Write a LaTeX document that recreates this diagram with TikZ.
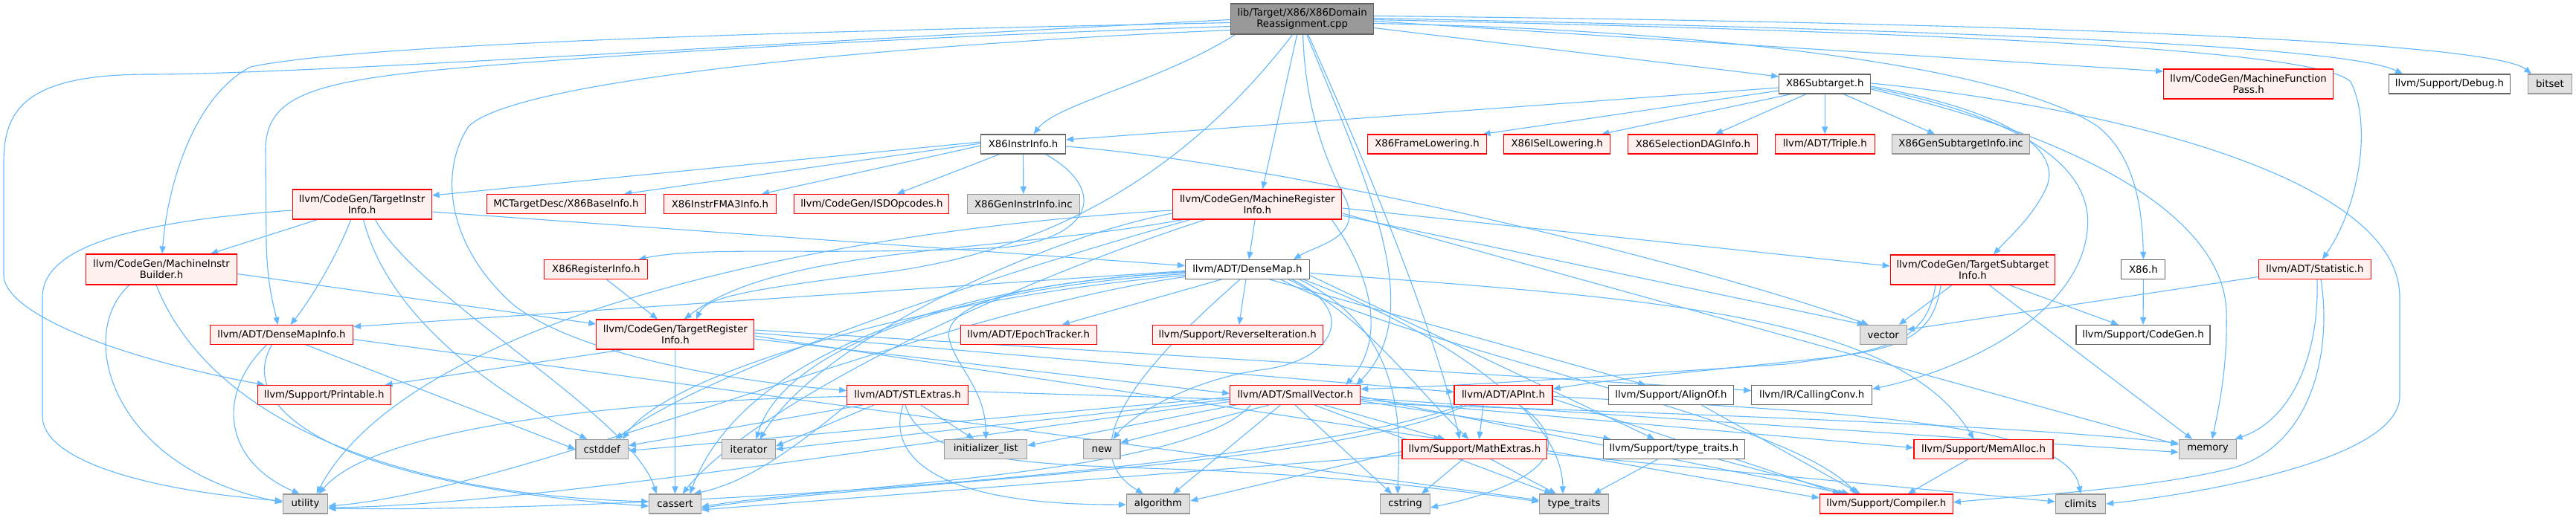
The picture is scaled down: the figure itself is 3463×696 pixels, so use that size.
\documentclass[tikz,border=0pt]{standalone}
\usepackage{fontspec}
\setmainfont{DejaVu Sans}
\usetikzlibrary{arrows.meta}
\newcommand{\ndfont}{\fontsize{13.3}{15}\selectfont}
\definecolor{ec}{HTML}{63B8FF}
\definecolor{nred}{HTML}{FF0000}
\definecolor{nredfill}{HTML}{FFF0F0}
\definecolor{ngray}{HTML}{999999}
\definecolor{ngrayfill}{HTML}{E0E0E0}
\definecolor{nwhite}{HTML}{666666}
\definecolor{mainfill}{HTML}{999999}
\pgfdeclarelayer{bg}
\pgfsetlayers{bg,main}
\tikzset{
 nb/.style={draw, line width=1.1pt, inner sep=0pt, align=center, font=\ndfont, minimum height=26pt},
 rn/.style={nb, draw=nred, fill=nredfill},
 gn/.style={nb, draw=ngray, fill=ngrayfill},
 wn/.style={nb, draw=nwhite, fill=white},
 ar/.style={draw=ec, line width=1.1pt, -{Triangle[length=10pt,width=8pt]}},
}
\begin{document}
\begin{tikzpicture}[x=1pt,y=-1pt]
\useasboundingbox (0,0) rectangle (3463,696);
% nodes
\node[nb, draw=nwhite, fill=mainfill, minimum width=191.6pt, minimum height=41pt] (main) at (1750.6,25.5) {lib/Target/X86/X86Domain\\Reassignment.cpp};
\node[wn, minimum width=123pt] (sub) at (2453.2,113) {X86Subtarget.h};
\node[rn, minimum width=228pt, minimum height=40pt] (mfp) at (3022.6,113) {llvm/CodeGen/MachineFunction\\Pass.h};
\node[wn, minimum width=163pt] (dbg) at (3293,113) {llvm/Support/Debug.h};
\node[gn, minimum width=58.7pt] (bitset) at (3428,113) {bitset};
\node[wn, minimum width=113.6pt] (x86ii) at (1375.6,194) {X86InstrInfo.h};
\node[rn, minimum width=159.6pt] (fl) at (1918.5,194) {X86FrameLowering.h};
\node[rn, minimum width=143pt] (isel) at (2093.2,194) {X86ISelLowering.h};
\node[rn, minimum width=174pt] (sdag) at (2275.9,194) {X86SelectionDAGInfo.h};
\node[rn, minimum width=134pt] (triple) at (2453.2,194) {llvm/ADT/Triple.h};
\node[gn, minimum width=184.4pt] (gensub) at (2636.1,194) {X86GenSubtargetInfo.inc};
\node[rn, minimum width=187pt, minimum height=40pt] (tii) at (486.6,275) {llvm/CodeGen/TargetInstr\\Info.h};
\node[rn, minimum width=213.6pt] (baseinfo) at (761,274.5) {MCTargetDesc/X86BaseInfo.h};
\node[rn, minimum width=150.8pt] (fma3) at (968,274.5) {X86InstrFMA3Info.h};
\node[rn, minimum width=208pt] (isd) at (1171.9,274.5) {llvm/CodeGen/ISDOpcodes.h};
\node[gn, minimum width=150.8pt] (genii) at (1375.8,274.5) {X86GenInstrInfo.inc};
\node[rn, minimum width=227.2pt, minimum height=40pt] (mri) at (1690.3,275) {llvm/CodeGen/MachineRegister\\Info.h};
\node[rn, minimum width=202.8pt, minimum height=41pt] (mib) at (217,362.5) {llvm/CodeGen/MachineInstr\\Builder.h};
\node[rn, minimum width=139pt] (x86ri) at (801.4,362.5) {X86RegisterInfo.h};
\node[wn, minimum width=166.8pt] (densemap) at (1676.9,362.5) {llvm/ADT/DenseMap.h};
\node[rn, minimum width=221.5pt, minimum height=40pt] (tsi) at (2652,363) {llvm/CodeGen/TargetSubtarget\\Info.h};
\node[wn, minimum width=59pt] (x86h) at (2881.4,362.5) {X86.h};
\node[rn, minimum width=151pt] (stat) at (3112,362.5) {llvm/ADT/Statistic.h};
\node[rn, minimum width=212pt, minimum height=40pt] (tri) at (907.9,450) {llvm/CodeGen/TargetRegister\\Info.h};
\node[rn, minimum width=192pt] (dmi) at (378.5,450.5) {llvm/ADT/DenseMapInfo.h};
\node[rn, minimum width=183pt] (epoch) at (1382.7,450.5) {llvm/ADT/EpochTracker.h};
\node[rn, minimum width=229pt] (reviter) at (1663.7,450.5) {llvm/Support/ReverseIteration.h};
\node[gn, minimum width=63pt] (vector) at (2531.8,450.5) {vector};
\node[wn, minimum width=180pt] (cgh) at (2881,450.5) {llvm/Support/CodeGen.h};
\node[rn, minimum width=178.7pt] (printable) at (435.7,531.5) {llvm/Support/Printable.h};
\node[rn, minimum width=162.5pt] (stl) at (1220,531.5) {llvm/ADT/STLExtras.h};
\node[rn, minimum width=175pt] (sv) at (1741.2,531.5) {llvm/ADT/SmallVector.h};
\node[rn, minimum width=132pt] (apint) at (2021,531.5) {llvm/ADT/APInt.h};
\node[wn, minimum width=168pt] (alignof) at (2246.4,531.5) {llvm/Support/AlignOf.h};
\node[wn, minimum width=161.5pt] (cc) at (2435.6,531.5) {llvm/IR/CallingConv.h};
\node[gn, minimum width=70.4pt] (cstddef) at (809.2,604.5) {cstddef};
\node[gn, minimum width=71.5pt] (iterator) at (1006.5,604.5) {iterator};
\node[gn, minimum width=111pt] (initl) at (1325.3,604.5) {initializer\_list};
\node[gn, minimum width=49.3pt] (new) at (1481.3,604.5) {new};
\node[rn, minimum width=194.8pt] (mathx) at (1982.4,604.5) {llvm/Support/MathExtras.h};
\node[wn, minimum width=190.4pt] (lltt) at (2250.4,604.5) {llvm/Support/type\_traits.h};
\node[rn, minimum width=187pt] (memalloc) at (2666.5,604.5) {llvm/Support/MemAlloc.h};
\node[gn, minimum width=77.7pt] (memory) at (2968,604.5) {memory};
\node[gn, minimum width=60.4pt] (utility) at (410.6,678) {utility};
\node[gn, minimum width=69.7pt] (cassert) at (907.5,678) {cassert};
\node[gn, minimum width=85.4pt] (algorithm) at (1557,678) {algorithm};
\node[gn, minimum width=67pt] (cstring) at (1889,678) {cstring};
\node[gn, minimum width=92.3pt] (tt) at (2116,678) {type\_traits};
\node[rn, minimum width=179pt] (compiler) at (2535.8,678) {llvm/Support/Compiler.h};
\node[gn, minimum width=67.3pt] (climits) at (2797,678) {climits};
\begin{pgfonlayer}{bg}
\fill[white] (0,0) rectangle (3463,696);
% main
\draw[ar] ([xshift=-90pt]main.south) .. controls (1560,110) and (1420,140) .. ([xshift=14pt]x86ii.north);
\draw[ar] ([yshift=-12pt]main.east) -- ([yshift=10pt]sub.west);
\draw[ar] ([yshift=-3pt]main.east) -- ([yshift=17pt]mfp.west);
\draw[ar] ([yshift=1pt]main.east) .. controls (2600,40) and (3150,60) .. ([xshift=-63pt]dbg.north);
\draw[ar] ([yshift=4pt]main.east) .. controls (2700,30) and (3350,55) .. ([xshift=-25pt]bitset.north);
\draw[ar] ([yshift=-1pt]main.east) .. controls (2700,45) and (3120,70) .. (3160,110) .. controls (3190,170) and (3170,280) .. ([xshift=10pt]stat.north);
\draw[ar] ([yshift=-6pt]main.east) .. controls (2300,40) and (2700,90) .. (2820,170) .. controls (2870,210) and (2880,280) .. (x86h.north);
\draw[ar] ([xshift=-7pt]main.south) -- ([xshift=7pt]mri.north);
\draw[ar] ([xshift=1pt]main.south) .. controls (1755,160) and (1790,230) .. (1810,270) .. controls (1830,320) and (1770,330) .. ([xshift=62pt]densemap.north);
\draw[ar] ([xshift=6pt]main.south) .. controls (1840,250) and (1920,420) .. ([xshift=82pt]sv.north);
\draw[ar] ([xshift=8pt]main.south) .. controls (1850,250) and (1930,450) .. ([xshift=-20pt]mathx.north);
\draw[ar] ([xshift=-13pt]main.south) .. controls (1620,200) and (1450,330) .. (1200,365) .. controls (1000,390) and (950,400) .. ([xshift=28pt]tri.north);
\draw[ar] ([yshift=-15pt]main.west) .. controls (1300,55) and (700,100) .. (630,170) .. controls (590,230) and (600,330) .. (690,410) .. controls (780,480) and (1000,515) .. ([yshift=6pt]stl.west);
\draw[ar] ([yshift=-10pt]main.west) .. controls (1200,50) and (800,75) .. (600,93) .. controls (420,110) and (358,130) .. (357,200) -- (358,330) .. controls (360,390) and (370,420) .. ([xshift=-5pt]dmi.north);
\draw[ar] ([yshift=-5pt]main.west) .. controls (1200,40) and (500,55) .. (337,90) .. controls (260,130) and (225,250) .. ([xshift=1pt]mib.north);
\draw[ar] ([yshift=-1pt]main.west) .. controls (1000,60) and (400,100) .. (200,100) .. controls (30,100) and (5,150) .. (5,220) -- (5,370) .. controls (5,420) and (150,480) .. ([xshift=-80pt]printable.north);
% sub
\draw[ar] ([yshift=-5pt]sub.west) -- ([yshift=6pt]x86ii.east);
\draw[ar] ([yshift=-9pt]sub.west) -- ([xshift=75pt]fl.north);
\draw[ar] ([xshift=-45pt]sub.south) -- ([xshift=60pt]isel.north);
\draw[ar] ([xshift=-25pt]sub.south) -- ([xshift=30pt]sdag.north);
\draw[ar] (sub) -- (triple);
\draw[ar] ([xshift=25pt]sub.south) -- ([xshift=-35pt]gensub.north);
\draw[ar] ([yshift=-3pt]sub.east) .. controls (2700,150) and (2770,200) .. (2752,250) .. controls (2735,290) and (2700,320) .. ([xshift=28pt]tsi.north);
\draw[ar] ([yshift=-5pt]sub.east) .. controls (2730,160) and (2815,230) .. (2806,310) .. controls (2795,420) and (2650,495) .. ([yshift=8pt]cc.east);
\draw[ar] ([yshift=1pt]sub.east) .. controls (2800,140) and (3226,230) .. (3226,400) -- (3226,533) .. controls (3226,620) and (2950,665) .. (climits.east);
\draw[ar] ([yshift=-7pt]sub.east) .. controls (2820,190) and (2990,300) .. (2993,420) .. controls (2995,500) and (2980,560) .. ([xshift=6pt]memory.north);
% x86ii
\draw[ar] ([yshift=3pt]x86ii.west) -- ([yshift=12pt]tii.east);
\draw[ar] ([yshift=1pt]x86ii.west) -- ([xshift=78pt]baseinfo.north);
\draw[ar] ([yshift=-2pt]x86ii.west) -- ([xshift=56pt]fma3.north);
\draw[ar] ([xshift=-32pt]x86ii.south) -- ([xshift=34pt]isd.north);
\draw[ar] (x86ii) -- (genii);
\draw[ar] ([xshift=30pt]x86ii.south) .. controls (1490,255) and (1470,320) .. (1350,333) .. controls (1100,345) and (950,330) .. ([xshift=57pt]x86ri.north);
\draw[ar] ([yshift=-3pt]x86ii.east) .. controls (1750,222) and (2300,360) .. ([xshift=-20pt]vector.north);
% tii
\draw[ar] ([xshift=-60pt]tii.south) -- ([xshift=66pt]mib.north);
\draw[ar] ([xshift=-15pt]tii.south) .. controls (455,340) and (420,400) .. ([xshift=12pt]dmi.north);
\draw[ar] ([yshift=-10pt]tii.east) -- ([yshift=5pt]densemap.west);
\draw[ar] ([yshift=-8pt]tii.west) .. controls (150,300) and (57,340) .. (57,400) -- (57,560) .. controls (57,620) and (200,660) .. ([yshift=4pt]utility.west);
\draw[ar] ([xshift=2pt]tii.south) .. controls (520,420) and (650,520) .. ([xshift=-20pt]cstddef.north);
\draw[ar] ([xshift=18pt]tii.south) .. controls (560,400) and (850,560) .. ([xshift=-25pt]cassert.north);
% mib
\draw[ar] ([yshift=-6pt]mib.east) -- ([yshift=14pt]tri.west);
\draw[ar] ([xshift=-43pt]mib.south) .. controls (100,450) and (150,630) .. ([yshift=2pt]utility.west);
\draw[ar] ([xshift=-7pt]mib.south) .. controls (280,560) and (520,665) .. ([yshift=3pt]cassert.west);
% mri
\draw[ar] (mri) -- (densemap);
\draw[ar] ([xshift=-100pt]mri.south) .. controls (1350,340) and (1050,330) .. ([xshift=12pt]tri.north);
\draw[ar] ([yshift=-5pt]mri.east) -- ([yshift=5pt]tsi.west);
\draw[ar] ([xshift=100pt]mri.south) .. controls (1850,380) and (1860,460) .. ([xshift=68pt]sv.north);
\draw[ar] ([yshift=-12pt]mri.west) .. controls (1400,320) and (1100,460) .. ([xshift=15pt]iterator.north);
\draw[ar] ([xshift=-90pt]mri.south) .. controls (1300,380) and (950,500) .. ([xshift=18pt]cstddef.north);
\draw[ar] ([xshift=-70pt]mri.south) .. controls (1300,400) and (1000,560) .. ([xshift=10pt]cassert.north);
\draw[ar] ([yshift=-8pt]mri.west) .. controls (1100,310) and (550,430) .. ([xshift=15pt]utility.north);
\draw[ar] ([yshift=-12pt]mri.east) -- ([yshift=6pt]memory.west);
\draw[ar] ([yshift=-15pt]mri.east) -- ([xshift=-25pt]vector.north);
% tri
\draw[ar] (tri) -- (cassert);
\draw[ar] ([xshift=-70pt]tri.south) -- ([xshift=-8pt]printable.north east);
\draw[ar] ([yshift=-6pt]tri.east) -- ([yshift=2pt]sv.west);
\draw[ar] ([yshift=6pt]tri.east) -- ([yshift=6pt]cc.west);
\draw[ar] ([yshift=-2pt]tri.east) -- ([xshift=-45pt]mathx.north);
\draw[ar] ([yshift=2pt]tri.east) -- ([yshift=4pt]apint.west);
% x86ri
\draw[ar] ([xshift=14pt]x86ri.south) -- ([xshift=-24pt]tri.north);
% densemap
\draw[ar] ([yshift=-2pt]densemap.west) -- ([yshift=11pt]dmi.east);
\draw[ar] ([xshift=-35pt]densemap.south) -- ([xshift=45pt]epoch.north);
\draw[ar] (densemap) -- (reviter);
\draw[ar] ([xshift=30pt]densemap.south) -- ([xshift=-34pt]alignof.north);
\draw[ar] ([xshift=45pt]densemap.south) .. controls (1900,470) and (2400,560) .. ([xshift=-40pt]compiler.north);
\draw[ar] ([xshift=55pt]densemap.south) .. controls (1830,420) and (1900,520) .. ([xshift=-8pt]mathx.north);
\draw[ar] ([yshift=-5pt]densemap.east) .. controls (2200,400) and (2550,420) .. ([xshift=-13pt]memalloc.north);
\draw[ar] ([yshift=-8pt]densemap.east) -- ([xshift=-26pt]lltt.north);
\draw[ar] ([xshift=-10pt]densemap.south) .. controls (1560,470) and (1430,600) .. ([xshift=-20pt]algorithm.north);
\draw[ar] ([yshift=-4pt]densemap.west) .. controls (1300,380) and (1000,470) .. ([xshift=20pt]cassert.north);
\draw[ar] ([yshift=-8pt]densemap.west) .. controls (1250,400) and (900,500) .. ([xshift=28pt]cstddef.north);
\draw[ar] ([xshift=70pt]densemap.south) .. controls (1900,450) and (1880,600) .. ([xshift=-10pt]cstring.north);
\draw[ar] ([xshift=75pt]densemap.south) .. controls (1950,450) and (2100,560) .. ([xshift=-15pt]tt.north);
\draw[ar] ([yshift=-3pt]densemap.west) .. controls (1400,380) and (1280,400) .. (1275,450) .. controls (1280,490) and (1325,520) .. (initl.north);
\draw[ar] ([yshift=-6pt]densemap.west) .. controls (1250,390) and (1050,480) .. ([xshift=10pt]iterator.north);
\draw[ar] ([xshift=60pt]densemap.south) .. controls (1830,420) and (1790,485) .. (1700,497) .. controls (1600,510) and (1520,560) .. ([xshift=15pt]new.north);
\draw[ar] ([yshift=-10pt]densemap.west) .. controls (1250,420) and (700,660) .. ([yshift=-3pt]utility.east);
% dmi
\draw[ar] ([xshift=-20pt]dmi.south) .. controls (290,530) and (300,620) .. ([xshift=-8pt]utility.north);
\draw[ar] ([xshift=-13pt]dmi.south) .. controls (320,540) and (420,650) .. ([yshift=-3pt]cassert.west);
\draw[ar] ([xshift=33pt]dmi.south) -- (cstddef.west);
\draw[ar] ([yshift=-6pt]dmi.east) -- ([yshift=5pt]tt.west);
% stl
\draw[ar] ([xshift=18pt]stl.south) -- ([xshift=-16pt]initl.north);
\draw[ar] ([xshift=-6pt]stl.south) .. controls (1195,600) and (1230,680) .. ([yshift=-1pt]algorithm.west);
\draw[ar] ([xshift=-60pt]stl.south) -- ([yshift=5pt]cstddef.east);
\draw[ar] ([xshift=-45pt]stl.south) -- ([yshift=4pt]iterator.east);
\draw[ar] (stl.south west) .. controls (1060,610) and (1000,650) .. ([xshift=25pt]cassert.north);
\draw[ar] ([yshift=-2pt]stl.west) .. controls (800,540) and (500,580) .. ([xshift=18pt]utility.north);
\draw[ar] ([yshift=5pt]stl.east) .. controls (1700,540) and (2600,560) .. ([yshift=8pt]memory.west);
\draw[ar] ([xshift=-3pt]stl.south) .. controls (1240,625) and (1400,625) .. (1600,632) .. controls (1800,640) and (1960,660) .. ([yshift=3pt]tt.west);
% sv
\draw[ar] ([xshift=-35pt]sv.south) -- ([yshift=9pt]new.east);
\draw[ar] ([xshift=-20pt]sv.south) -- ([xshift=20pt]algorithm.north);
\draw[ar] ([xshift=-80pt]sv.south) -- ([yshift=5pt]initl.east);
\draw[ar] ([yshift=-3pt]sv.west) -- ([yshift=-2pt]cstddef.east);
\draw[ar] ([yshift=-6pt]sv.west) -- (iterator.east);
\draw[ar] ([xshift=-60pt]sv.south) .. controls (1600,640) and (1100,655) .. ([yshift=-4pt]cassert.east);
\draw[ar] ([yshift=-9pt]sv.west) .. controls (1200,600) and (700,680) .. ([yshift=-5pt]utility.east);
\draw[ar] (sv.south) -- ([xshift=-18pt]cstring.north);
\draw[ar] ([xshift=26pt]sv.south) -- ([xshift=-30pt]tt.north);
\draw[ar] ([yshift=-2pt]sv.east) -- ([xshift=-55pt]compiler.north);
\draw[ar] ([yshift=-4pt]sv.east) -- ([yshift=-4pt]memory.west);
\draw[ar] ([xshift=39pt]sv.south) -- ([xshift=-40pt]mathx.north);
\draw[ar] ([yshift=-6pt]sv.east) -- ([yshift=2pt]memalloc.west);
\draw[ar] ([yshift=-8pt]sv.east) -- ([xshift=-85pt]lltt.north);
% apint
\draw[ar] ([xshift=-27pt]apint.south) -- ([xshift=6pt]mathx.north);
\draw[ar] ([xshift=21pt]apint.south) .. controls (2110,590) and (2100,645) .. ([yshift=-5pt]cstring.east);
\draw[ar] ([xshift=-50pt]apint.south) .. controls (1800,630) and (1150,650) .. ([yshift=-6pt]cassert.east);
\draw[ar] ([yshift=-5pt]apint.east) -- ([xshift=-62pt]compiler.north);
\draw[ar] ([yshift=-2pt]apint.east) .. controls (2500,555) and (2780,570) .. (climits.north);
\draw[ar] ([xshift=-55pt]apint.south) .. controls (1700,640) and (800,690) .. ([yshift=-6pt]utility.east);
% mathx
\draw[ar] ([xshift=-16pt]mathx.south) -- ([xshift=22pt]cstring.north);
\draw[ar] ([xshift=22pt]mathx.south) -- ([xshift=-24pt]tt.north);
\draw[ar] ([yshift=-3pt]mathx.west) -- ([yshift=4pt]algorithm.east);
\draw[ar] ([yshift=-8pt]mathx.west) -- ([yshift=-8pt]cassert.east);
\draw[ar] ([yshift=-6pt]mathx.east) -- ([yshift=3pt]climits.west);
\draw[ar] ([yshift=-2pt]mathx.east) -- ([yshift=8pt]compiler.west);
% lltt, alignof, memalloc
\draw[ar] ([xshift=-22pt]lltt.south) -- ([xshift=26pt]tt.north);
\draw[ar] ([xshift=60pt]lltt.south) -- ([xshift=-50pt]compiler.north);
\draw[ar] ([xshift=41pt]alignof.south) -- ([xshift=-35pt]compiler.north);
\draw[ar] ([xshift=-21pt]memalloc.south) -- ([xshift=29pt]compiler.north);
% tsi
\draw[ar] ([xshift=-28pt]tsi.south) -- ([xshift=21pt]vector.north);
\draw[ar] ([xshift=49pt]tsi.south) -- ([xshift=-33pt]cgh.north);
\draw[ar] ([xshift=22pt]tsi.south) -- ([xshift=-21pt]memory.north);
\draw[ar] ([xshift=-50pt]tsi.south) .. controls (2590,460) and (2540,472) .. (2400,490) .. controls (2100,510) and (1950,520) .. ([yshift=8pt]sv.east);
\draw[ar] ([xshift=-43pt]tsi.south) .. controls (2600,450) and (2560,470) .. (2450,482) .. controls (2300,498) and (2150,512) .. ([yshift=8pt]apint.east);
% x86h
\draw[ar] (x86h) -- (cgh);
% stat
\draw[ar] ([yshift=-10pt]stat.west) -- ([yshift=7pt]vector.east);
\draw[ar] ([xshift=3pt]stat.south) .. controls (3118,480) and (3080,565) .. ([xshift=-3pt]memory.north east);
\draw[ar] ([xshift=8pt]stat.south) .. controls (3135,470) and (3110,600) .. (3000,630) .. controls (2880,660) and (2700,668) .. ([yshift=2pt]compiler.east);
\end{pgfonlayer}
\end{tikzpicture}
\end{document}
